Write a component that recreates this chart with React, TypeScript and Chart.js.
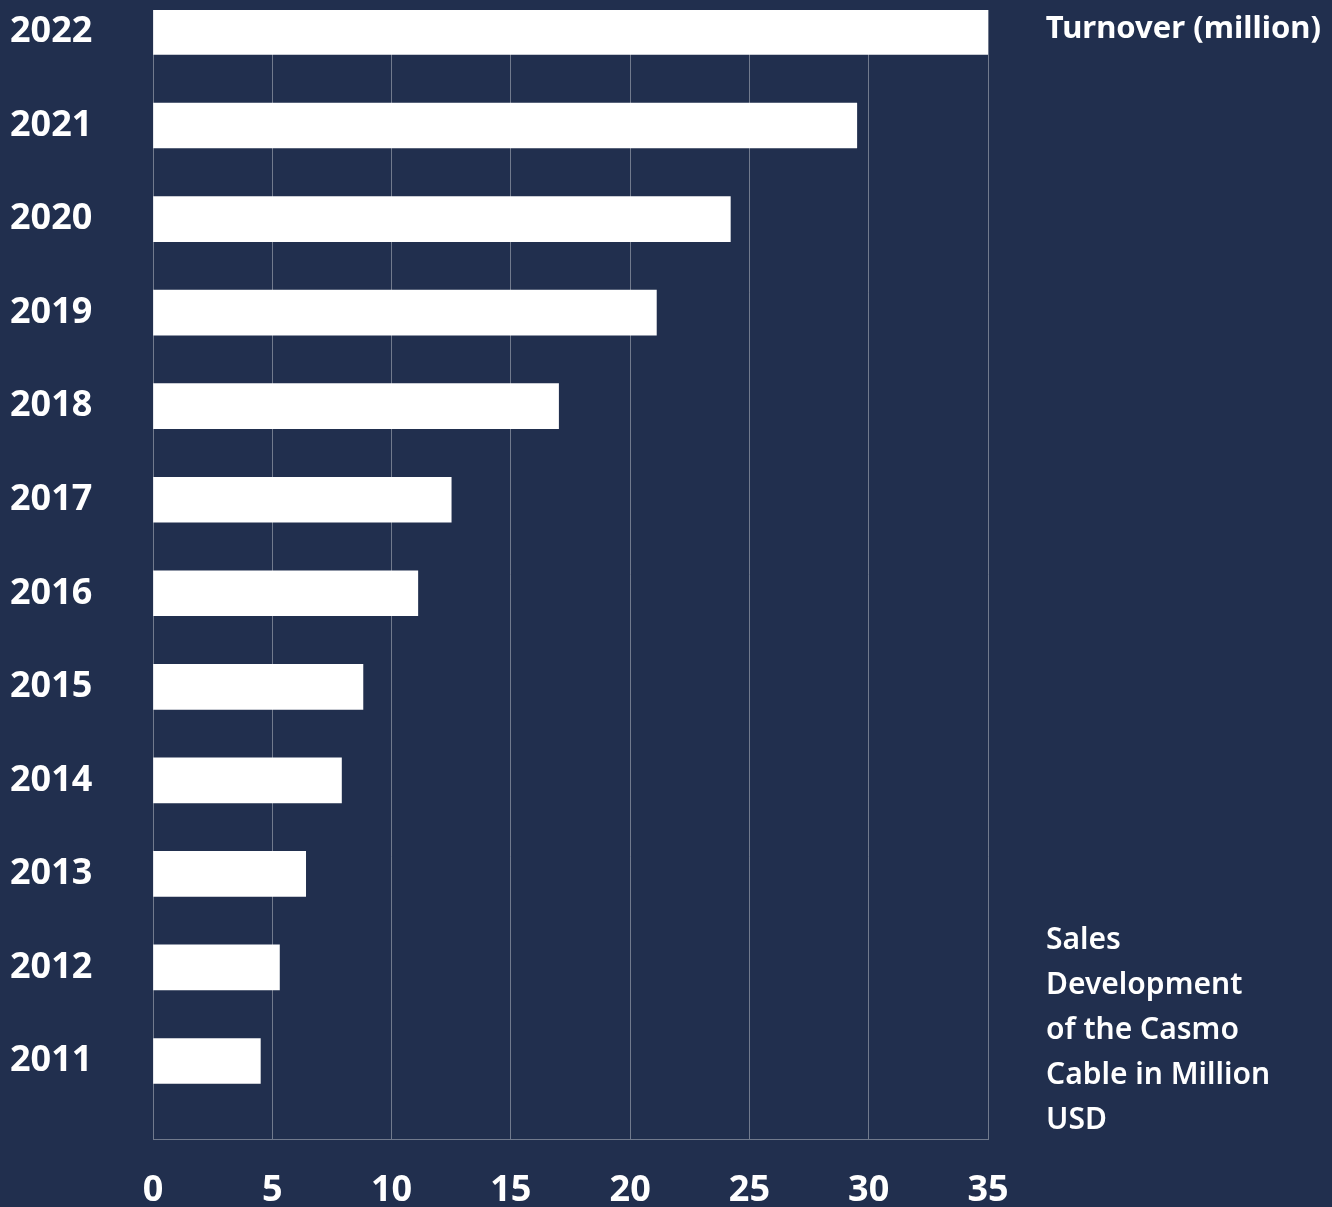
import React, { useEffect, useRef } from "react";
import { Chart, registerables } from "chart.js";

Chart.register(...registerables);

const years: number[] = [2022, 2021, 2020, 2019, 2018, 2017, 2016, 2015, 2014, 2013, 2012, 2011];
const turnover: number[] = [35.1, 29.5, 24.2, 21.1, 17.0, 12.5, 11.1, 8.8, 7.9, 6.4, 5.3, 4.5];
const xTicks: number[] = [0, 5, 10, 15, 20, 25, 30, 35];
const seriesLabel = "Turnover (million)";
const noteText = "Sales Development of the Casmo Cable in Million USD";

const BG = "rgb(33,47,78)";
const FONT = "'Noto Sans', 'Open Sans', sans-serif";

export default function App() {
  const canvasRef = useRef<HTMLCanvasElement | null>(null);

  useEffect(() => {
    document.body.style.margin = "0";
    document.body.style.background = BG;
    const canvas = canvasRef.current;
    if (!canvas) return;
    const chart = new Chart(canvas, {
      type: "bar",
      data: {
        datasets: [
          {
            label: seriesLabel,
            data: years.map((y, i) => ({ x: turnover[i], y })),
            backgroundColor: "#ffffff",
            borderWidth: 0,
            barThickness: 45,
          },
        ],
      },
      options: {
        indexAxis: "y",
        animation: false,
        responsive: false,
        maintainAspectRatio: false,
        layout: { padding: { left: 10, right: 344, top: 10, bottom: 0 } },
        plugins: {
          legend: { display: false },
          tooltip: { enabled: false },
        },
        scales: {
          x: {
            type: "linear",
            min: 0,
            max: 35,
            afterBuildTicks: (scale: any) => {
              scale.ticks = xTicks.map((v) => ({ value: v }));
            },
            afterFit: (scale: any) => {
              scale.height = 68;
            },
            grid: {
              color: "rgba(255,255,255,0.36)",
              lineWidth: 1,
              drawTicks: false,
            },
            border: { display: true, color: "rgba(255,255,255,0.36)", width: 1 },
            ticks: {
              color: "#ffffff",
              padding: 30,
              maxRotation: 0,
              font: { family: FONT, size: 36, weight: "bold" },
            },
          },
          y: {
            type: "linear",
            offset: false,
            min: 2010.166,
            max: 2022.235,
            afterBuildTicks: (scale: any) => {
              scale.ticks = years.map((v) => ({ value: v }));
            },
            afterFit: (scale: any) => {
              scale.width = 143;
              scale.paddingTop = 0;
              scale.paddingBottom = 0;
            },
            grid: { display: false },
            border: { display: false },
            ticks: {
              color: "#ffffff",
              crossAlign: "far",
              callback: (v: any) => String(v),
              font: { family: FONT, size: 36, weight: "bold" },
            },
          },
        },
      },
    });
    return () => chart.destroy();
  }, []);

  return (
    <div style={{ position: "relative", width: 1332, height: 1207, background: BG, overflow: "hidden" }}>
      <canvas ref={canvasRef} width={1332} height={1207} style={{ display: "block", width: 1332, height: 1207 }} />
      <div
        style={{
          position: "absolute",
          right: 11,
          top: 5,
          color: "#fff",
          fontFamily: FONT,
          fontWeight: 700,
          fontSize: 31,
          lineHeight: "42px",
          whiteSpace: "nowrap",
        }}
      >
        {seriesLabel}
      </div>
      <div
        style={{
          position: "absolute",
          left: 1046,
          top: 915,
          width: 228,
          color: "#fff",
          fontFamily: FONT,
          fontWeight: 600,
          fontSize: 30,
          lineHeight: "45px",
        }}
      >
        {noteText}
      </div>
    </div>
  );
}
